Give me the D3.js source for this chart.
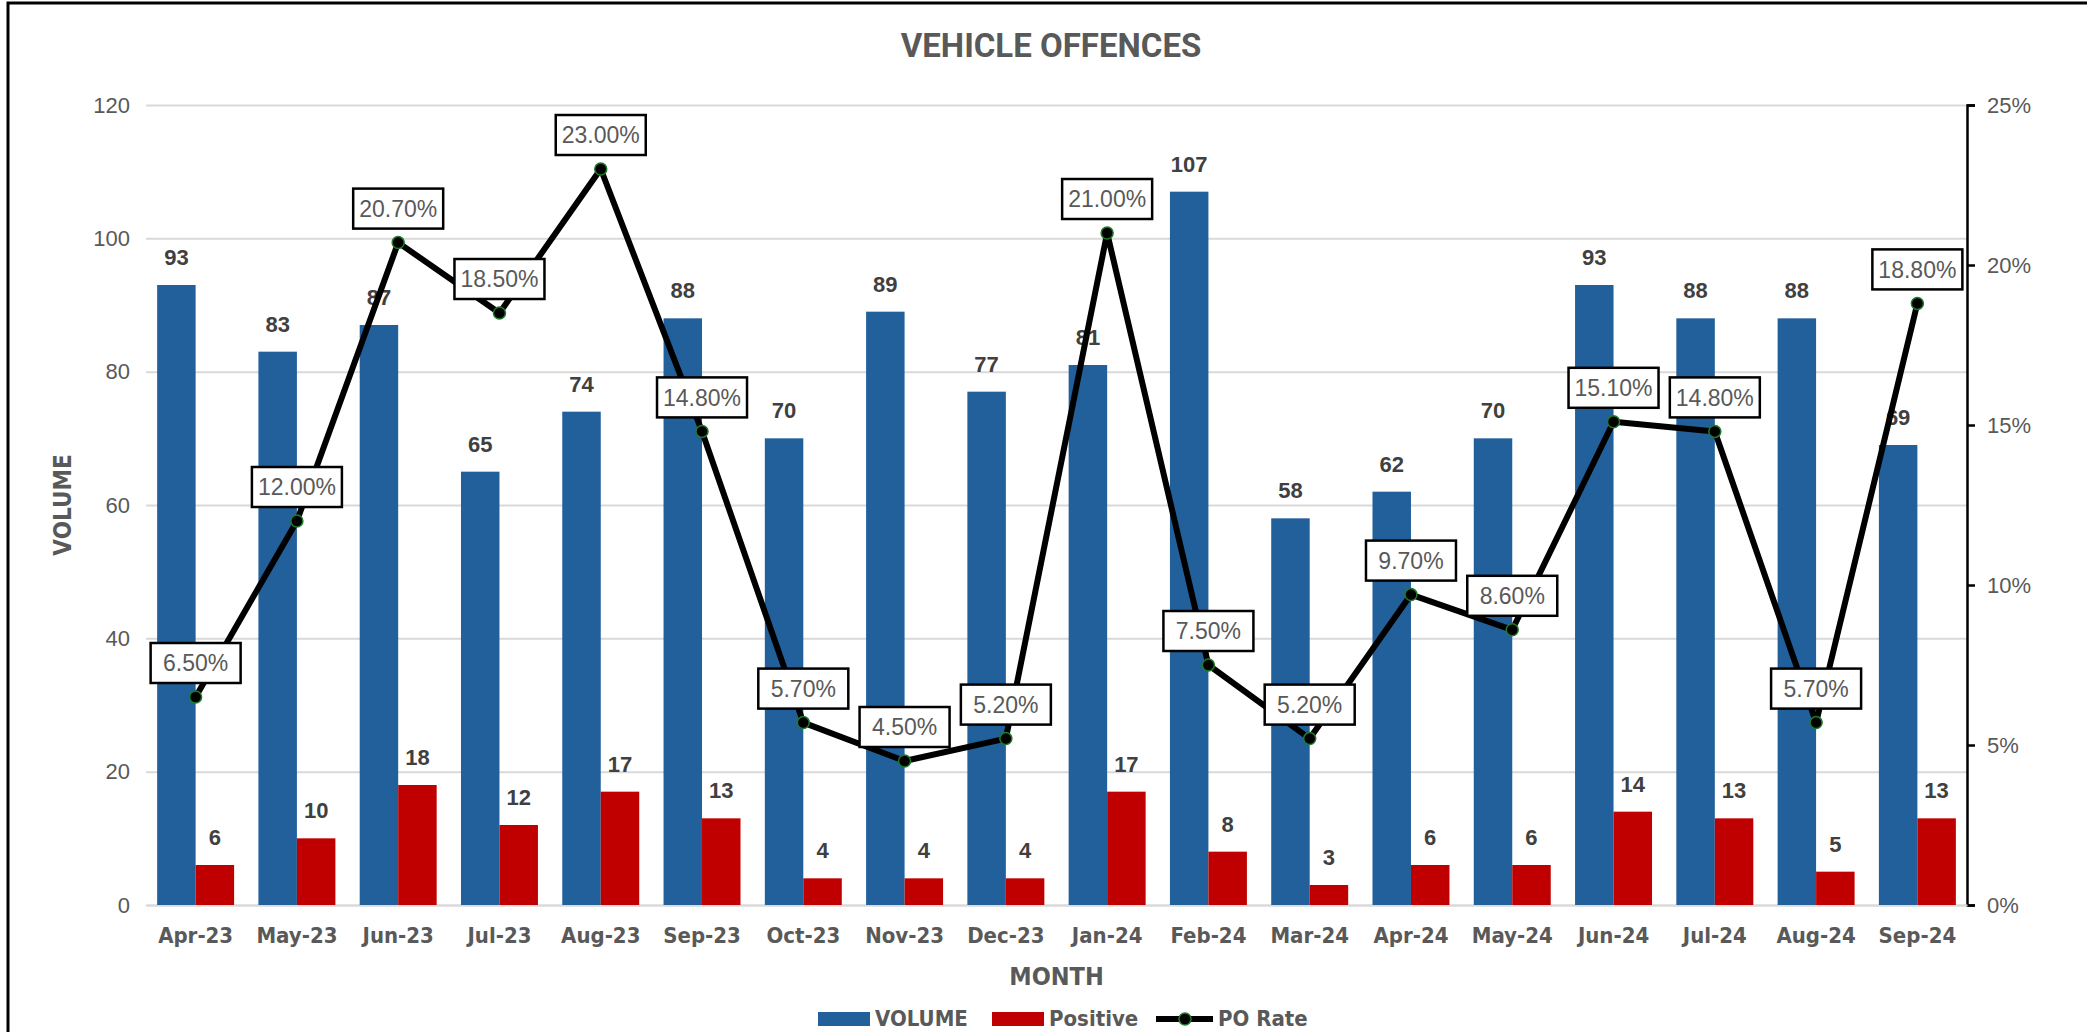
<!DOCTYPE html>
<html>
<head>
<meta charset="utf-8">
<script src="https://cdn.jsdelivr.net/npm/d3@7"></script>
<style>
  body { margin: 0; background: #fff; }
  text { font-family: "Liberation Sans", Arial, sans-serif; }
</style>
</head>
<body>
<div id="chart"></div>
<script>
// data
const months = ["Apr-23", "May-23", "Jun-23", "Jul-23", "Aug-23", "Sep-23", "Oct-23", "Nov-23", "Dec-23",
                "Jan-24", "Feb-24", "Mar-24", "Apr-24", "May-24", "Jun-24", "Jul-24", "Aug-24", "Sep-24"];
const volume = [93, 83, 87, 65, 74, 88, 70, 89, 77, 81, 107, 58, 62, 70, 93, 88, 88, 69];
const positive = [6, 10, 18, 12, 17, 13, 4, 4, 4, 17, 8, 3, 6, 6, 14, 13, 5, 13];
const poRate = [6.5, 12.0, 20.7, 18.5, 23.0, 14.8, 5.7, 4.5, 5.2, 21.0, 7.5, 5.2, 9.7, 8.6, 15.1, 14.8, 5.7, 18.8];
const leftTicks = [0, 20, 40, 60, 80, 100, 120];
const rightTicks = [0, 5, 10, 15, 20, 25];

const W = 2087, H = 1032;
const margin = {top: 105, right: 120, bottom: 127, left: 146};
const width = W - margin.left - margin.right,
      height = H - margin.top - margin.bottom;

const blue = "#22609B", red = "#C00000", grey = "#595959";
const narrow = "'Liberation Sans Narrow', 'DejaVu Sans Condensed', sans-serif";

const svg = d3.select("#chart")
  .append("svg")
    .attr("width", W)
    .attr("height", H);

// outer frame (only left/top edges are visible in the picture)
svg.append("rect")
  .attr("x", 8).attr("y", 3)
  .attr("width", W + 20).attr("height", H + 20)
  .attr("fill", "none").attr("stroke", "#000").attr("stroke-width", 3);

svg.append("text")
  .attr("x", 1051).attr("y", 57)
  .attr("text-anchor", "middle")
  .style("font-family", "Roboto, sans-serif")
  .style("font-weight", "bold").style("font-size", "33px")
  .attr("fill", grey)
  .text("VEHICLE OFFENCES");

const g = svg.append("g")
  .attr("transform", `translate(${margin.left},${margin.top})`);

// scales
const x = d3.scaleBand().domain(months).range([0, width]).paddingInner(0.24).paddingOuter(0.11);
const x1 = d3.scaleBand().domain(["volume", "positive"]).range([0, x.bandwidth()]);
const y = d3.scaleLinear().domain([0, 120]).range([height, 0]);
const y2 = d3.scaleLinear().domain([0, 25]).range([height, 0]);

// gridlines + left axis
const yAxis = g.append("g")
  .call(d3.axisLeft(y).tickValues(leftTicks).tickSize(-width).tickPadding(16));
yAxis.select(".domain").remove();
yAxis.selectAll(".tick line").attr("stroke", "#D9D9D9").attr("stroke-width", 2);
yAxis.selectAll(".tick text").attr("fill", grey).style("font-size", "22px");

// right axis
const y2Axis = g.append("g")
  .attr("transform", `translate(${width},0)`)
  .call(d3.axisRight(y2).tickValues(rightTicks).tickFormat(d => d + "%").tickSize(8).tickPadding(12));
y2Axis.select(".domain").attr("stroke", "#000").attr("stroke-width", 2.5);
y2Axis.selectAll(".tick line").attr("stroke", "#000").attr("stroke-width", 2.5);
y2Axis.selectAll(".tick text").attr("fill", grey).style("font-size", "22px");

// bottom axis
const xAxis = g.append("g")
  .attr("transform", `translate(0,${height})`)
  .call(d3.axisBottom(x).tickSize(0).tickPadding(22));
xAxis.select(".domain").attr("stroke", "#D9D9D9").attr("stroke-width", 2);
xAxis.selectAll(".tick text")
  .attr("fill", grey)
  .style("font-family", narrow)
  .style("font-weight", "bold").style("font-size", "22px");

// bars
const rows = months.map((m, i) => ({month: m, volume: volume[i], positive: positive[i], rate: poRate[i]}));
const groups = g.selectAll(".grp")
  .data(rows)
  .join("g")
    .attr("class", "grp")
    .attr("transform", d => `translate(${x(d.month)},0)`);

groups.selectAll("rect")
  .data(d => [{key: "volume", value: d.volume}, {key: "positive", value: d.positive}])
  .join("rect")
    .attr("x", d => x1(d.key))
    .attr("y", d => y(d.value))
    .attr("width", x1.bandwidth())
    .attr("height", d => height - y(d.value))
    .attr("fill", d => d.key == "volume" ? blue : red);

groups.selectAll(".val")
  .data(d => [{key: "volume", value: d.volume}, {key: "positive", value: d.positive}])
  .join("text")
    .attr("class", "val")
    .attr("x", d => x1(d.key) + x1.bandwidth() / 2)
    .attr("y", d => y(d.value) - 20)
    .attr("text-anchor", "middle")
    .attr("fill", "#404040")
    .style("font-weight", "bold").style("font-size", "22px")
    .text(d => d.value);

// PO rate line
const cx = d => x(d.month) + x.bandwidth() / 2;
g.append("path")
  .datum(rows)
  .attr("fill", "none")
  .attr("stroke", "#000")
  .attr("stroke-width", 6)
  .attr("stroke-linejoin", "round")
  .attr("d", d3.line().x(cx).y(d => y2(d.rate)));

g.selectAll(".dot")
  .data(rows)
  .join("circle")
    .attr("class", "dot")
    .attr("cx", cx)
    .attr("cy", d => y2(d.rate))
    .attr("r", 6)
    .attr("fill", "#000")
    .attr("stroke", "#1E7B2A")
    .attr("stroke-width", 1.5);

// boxed rate labels
const lbl = g.selectAll(".rl")
  .data(rows)
  .join("g")
    .attr("class", "rl")
    .attr("transform", d => `translate(${cx(d)},${y2(d.rate) - 34})`);
lbl.append("rect")
  .attr("x", -45).attr("y", -20)
  .attr("width", 90).attr("height", 40)
  .attr("fill", "#fff").attr("stroke", "#000").attr("stroke-width", 2.5);
lbl.append("text")
  .attr("text-anchor", "middle")
  .attr("dy", "0.36em")
  .attr("fill", grey)
  .style("font-size", "23px")
  .text(d => d.rate.toFixed(2) + "%");

// axis titles
svg.append("text")
  .attr("transform", `translate(62,${margin.top + height / 2}) rotate(-90)`)
  .attr("text-anchor", "middle").attr("dy", "0.36em")
  .attr("fill", grey)
  .style("font-family", narrow)
  .style("font-weight", "bold").style("font-size", "24px")
  .text("VOLUME");

svg.append("text")
  .attr("x", margin.left + width / 2).attr("y", 976)
  .attr("text-anchor", "middle").attr("dy", "0.36em")
  .attr("fill", grey)
  .style("font-family", narrow)
  .style("font-weight", "bold").style("font-size", "25px")
  .text("MONTH");

// legend
const legend = svg.append("g").attr("transform", "translate(0,1018)");
const items = [
  {name: "VOLUME", x: 818, type: "bar", color: blue},
  {name: "Positive", x: 992, type: "bar", color: red},
  {name: "PO Rate", x: 1156, type: "line"}
];
items.forEach(it => {
  if (it.type == "bar") {
    legend.append("rect").attr("x", it.x).attr("y", -6).attr("width", 52).attr("height", 14).attr("fill", it.color);
  } else {
    legend.append("line").attr("x1", it.x).attr("x2", it.x + 57).attr("y1", 1).attr("y2", 1)
      .attr("stroke", "#000").attr("stroke-width", 6);
    legend.append("circle").attr("cx", it.x + 29).attr("cy", 1).attr("r", 6)
      .attr("fill", "#000").attr("stroke", "#1E7B2A").attr("stroke-width", 1.5);
  }
  legend.append("text")
    .attr("x", it.x + (it.type == "bar" ? 57 : 62))
    .attr("dy", "0.36em")
    .attr("fill", grey)
    .style("font-family", narrow)
    .style("font-weight", "bold").style("font-size", "22px")
    .text(it.name);
});
</script>
</body>
</html>
